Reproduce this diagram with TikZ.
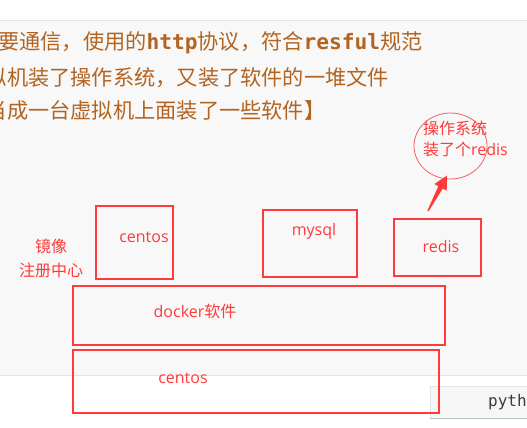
\documentclass[tikz,border=0pt]{standalone}
\usepackage{fontspec}
\setmainfont{Noto Sans CJK SC}
\newfontfamily\cjkf{Noto Sans CJK SC}
\newfontfamily\monof{DejaVu Sans Mono}
\newfontfamily\latf{Open Sans}
\usetikzlibrary{shapes.geometric}
\definecolor{rd}{RGB}{255,58,58}
\definecolor{rdl}{RGB}{240,95,95}
\definecolor{brn}{RGB}{178,100,32}
\definecolor{pagebg}{RGB}{248,248,248}
\definecolor{bordc}{RGB}{226,228,232}
\definecolor{codebg}{RGB}{246,246,246}
\definecolor{codeline}{RGB}{180,192,200}
\definecolor{codetxt}{RGB}{60,60,60}
\tikzset{
  toptext/.style={anchor=west,inner sep=0pt,text=brn,font=\cjkf\fontsize{21.2}{21.2}\selectfont},
  rbox/.style={draw=rd,line width=1.2pt,inner sep=0pt},
  rtext/.style={inner sep=0pt,text=rd,font=\cjkf\fontsize{16}{16}\selectfont},
  oval/.style={draw=rdl,line width=0.8pt,ellipse,inner sep=0pt},
}
\newcommand{\mb}[1]{{\monof\bfseries #1}}
\newcommand{\lt}[1]{{\latf #1}}
\begin{document}
\begin{tikzpicture}[x=1pt,y=-1pt]
\useasboundingbox (0,0) rectangle (527,428);
\clip (0,0) rectangle (527,428);
\fill[white] (0,0) rectangle (527,428);
\fill[pagebg] (0,20) rectangle (527,375);
\draw[bordc,line width=1.2pt] (0,20.5) -- (527,20.5);
\draw[bordc,line width=1pt] (0,375) -- (527,375);
% code block at bottom right
\fill[codebg] (430,386) rectangle (535,418);
\draw[bordc,line width=0.6pt] (430,418) -- (430,386) -- (535,386);
\draw[codeline,line width=1pt] (430,418) -- (535,418);
\node[anchor=west,inner sep=0pt,text=codetxt,font=\monof\fontsize{16}{16}\selectfont] (py) at (488,402) {python};
% top text
\node[toptext] (l1) at (-2,43) {要通信，使用的\mb{http}协议，符合\mb{resful}规范};
\node[toptext] (l2) at (-14.2,78) {拟机装了操作系统，又装了软件的一堆文件};
\node[toptext] (l3) at (-14.2,110) {当成一台虚拟机上面装了一些软件】};
% boxes
\node[rbox,minimum width=77pt,minimum height=73pt] (c1box) at (134.5,242.5) {};
\node[rtext] (c1) at (144,237) {\lt{centos}};
\node[rbox,minimum width=94pt,minimum height=67pt] (mybox) at (310,243.5) {};
\node[rtext] (my) at (314,231) {\lt{mysql}};
\node[rbox,minimum width=87pt,minimum height=57pt] (rdbox) at (437.5,247.5) {};
\node[rtext] (rds) at (441,246) {\lt{redis}};
\node[rbox,minimum width=372pt,minimum height=59pt] (dkbox) at (259,315.5) {};
\node[rtext] (dk) at (195,311) {\lt{docker}软件};
\node[rbox,minimum width=366pt,minimum height=63pt] (c2box) at (256,381.5) {};
\node[rtext] (c2) at (183,378) {\lt{centos}};
\node[rtext] (jx) at (51,246) {镜像};
\node[rtext] (zc) at (51,270) {注册中心};
% ellipse callout
\node[oval,minimum width=73pt,minimum height=66pt] (ov) at (450.5,146) {};
\node[rtext,anchor=west] (os1) at (423,128) {操作系统};
\node[rtext,anchor=west] (os2) at (423,149) {装了个\lt{redis}};
% arrow
\coordinate (atail) at (428,211);
\coordinate (atip) at (447,175.5);
\fill[rd] (atail) -- (427.4,210.6) -- (438.3,186.2) -- (434.3,184.1) -- (atip) -- (446.7,190.7) -- (442.7,188.6) -- (428.6,211.3) -- cycle;
\end{tikzpicture}
\end{document}
